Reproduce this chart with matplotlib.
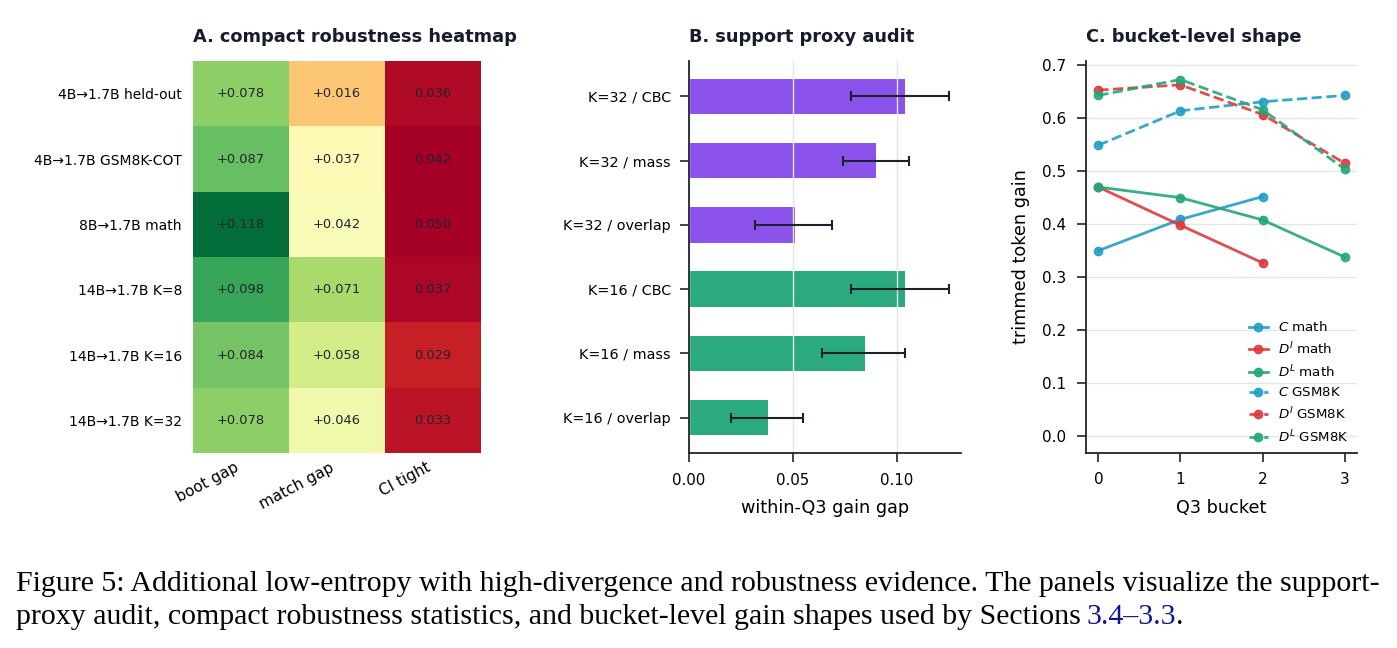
import numpy as np
import matplotlib
matplotlib.use("Agg")
import matplotlib.pyplot as plt

# ---------------- data ----------------
heat_rows = ["4B→1.7B held-out", "4B→1.7B GSM8K-COT", "8B→1.7B math",
             "14B→1.7B K=8", "14B→1.7B K=16", "14B→1.7B K=32"]
heat_cols = ["boot gap", "match gap", "CI tight"]
boot_gap = [0.078, 0.087, 0.118, 0.098, 0.084, 0.078]
match_gap = [0.016, 0.037, 0.042, 0.071, 0.058, 0.046]
ci_tight = [0.036, 0.042, 0.050, 0.037, 0.029, 0.033]

bar_labels = ["K=32 / CBC", "K=32 / mass", "K=32 / overlap",
              "K=16 / CBC", "K=16 / mass", "K=16 / overlap"]
bar_values = [0.104, 0.090, 0.051, 0.104, 0.085, 0.038]
bar_lo = [0.078, 0.074, 0.032, 0.078, 0.064, 0.020]
bar_hi = [0.125, 0.106, 0.069, 0.125, 0.104, 0.055]
bar_group = ["K=32", "K=32", "K=32", "K=16", "K=16", "K=16"]

buckets = [0, 1, 2, 3]
c_math = [0.350, 0.409, 0.452]
di_math = [0.470, 0.398, 0.327]
dl_math = [0.470, 0.450, 0.408, 0.338]
c_gsm = [0.549, 0.614, 0.631, 0.643]
di_gsm = [0.653, 0.663, 0.607, 0.515]
dl_gsm = [0.643, 0.673, 0.616, 0.504]

caption1 = ("Figure 5: Additional low-entropy with high-divergence and robustness "
            "evidence. The panels visualize the support-")
caption2a = ("proxy audit, compact robustness statistics, and bucket-level gain "
             "shapes used by Sections")
caption2b = "3.4–3.3"
caption2c = "."

# ---------------- style ----------------
plt.rcParams["font.family"] = ["DejaVu Sans"]
TITLE_C = "#161b2e"
SPINE_C = "#1f2430"
GRID_C = "#e3e5ea"
PURPLE = "#8b53eb"
GREEN_BAR = "#2baa80"
BLUE = "#20a0c4"
RED = "#e0393b"
GREEN = "#22a67a"
TITLE_FS = 12.8
LABEL_FS = 12.7

fig = plt.figure(figsize=(13.97, 6.48), dpi=100)
W, H = 1397, 648

def ax_at(l, r, t, b):
    return fig.add_axes([l / W, 1 - b / H, (r - l) / W, (b - t) / H])

# ---------------- Panel A ----------------
axA = ax_at(193, 481, 61, 453)
vals = np.array([boot_gap, match_gap, ci_tight]).T
sign = np.array([1, 1, -1])
colour_vals = vals * sign
axA.imshow(colour_vals, cmap="RdYlGn", vmin=-0.04, vmax=0.12, aspect="auto",
           interpolation="nearest")
for i in range(vals.shape[0]):
    for j in range(vals.shape[1]):
        txt = f"{vals[i, j]:+.3f}" if j < 2 else f"{vals[i, j]:.3f}"
        axA.text(j, i, txt, ha="center", va="center", fontsize=9.4, color="#1f2430")
axA.set_xticks(range(len(heat_cols)))
axA.set_xticklabels(heat_cols, rotation=28, ha="right", fontsize=11)
axA.set_yticks(range(len(heat_rows)))
axA.set_yticklabels(heat_rows, fontsize=10)
axA.tick_params(length=0, pad=8)
axA.tick_params(axis="x", pad=5)
for s in axA.spines.values():
    s.set_visible(False)
axA.set_title("A. compact robustness heatmap", loc="left", fontsize=TITLE_FS,
              fontweight="bold", color=TITLE_C, pad=14)

# ---------------- Panel B ----------------
axB = ax_at(689, 961, 61, 453)
ypos = np.arange(len(bar_labels))
cols = [PURPLE if g == "K=32" else GREEN_BAR for g in bar_group]
axB.barh(ypos, bar_values, height=0.55, color=cols)
xerr = [np.array(bar_values) - np.array(bar_lo), np.array(bar_hi) - np.array(bar_values)]
axB.errorbar(bar_values, ypos, xerr=xerr, fmt="none", ecolor="#1c2130",
             elinewidth=1.5, capsize=3.5, capthick=1.5, zorder=3)
axB.set_yticks(ypos)
axB.set_yticklabels(bar_labels, fontsize=10.4)
axB.invert_yaxis()
axB.set_xlim(0, 0.131)
axB.set_xticks([0.0, 0.05, 0.10])
axB.set_xticklabels(["0.00", "0.05", "0.10"], fontsize=10.8)
axB.set_xlabel("within-Q3 gain gap", fontsize=LABEL_FS, labelpad=8)
axB.grid(axis="x", color=GRID_C, linewidth=1)
axB.set_axisbelow("line")
for s in ["top", "right"]:
    axB.spines[s].set_visible(False)
for s in ["left", "bottom"]:
    axB.spines[s].set_color(SPINE_C)
    axB.spines[s].set_linewidth(1.3)
axB.tick_params(axis="both", length=6.5, width=1.2, color=SPINE_C)
axB.tick_params(axis="x", pad=8)
axB.tick_params(axis="y", pad=6.5)
axB.set_title("B. support proxy audit", loc="left", fontsize=TITLE_FS,
              fontweight="bold", color=TITLE_C, pad=14)

# ---------------- Panel C ----------------
axC = ax_at(1086, 1357, 61, 453)
lk = dict(linewidth=2, marker="o", markersize=6, alpha=0.9)
axC.plot(buckets[:len(c_math)], c_math, color=BLUE, label="$C$ math", **lk)
axC.plot(buckets[:len(di_math)], di_math, color=RED, label="$D^I$ math", **lk)
axC.plot(buckets[:len(dl_math)], dl_math, color=GREEN, label="$D^L$ math", **lk)
axC.plot(buckets, c_gsm, color=BLUE, linestyle="--", label="$C$ GSM8K", **lk)
axC.plot(buckets, di_gsm, color=RED, linestyle="--", label="$D^I$ GSM8K", **lk)
axC.plot(buckets, dl_gsm, color=GREEN, linestyle="--", label="$D^L$ GSM8K", **lk)
axC.set_xlim(-0.15, 3.15)
axC.set_ylim(-0.032, 0.708)
axC.set_xticks(buckets)
axC.set_yticks(np.arange(0, 0.71, 0.1))
axC.set_yticklabels([f"{v:.1f}" for v in np.arange(0, 0.71, 0.1)])
axC.tick_params(axis="both", labelsize=11, length=6.5, width=1.2, color=SPINE_C, pad=7.5)
axC.set_xlabel("Q3 bucket", fontsize=LABEL_FS, labelpad=8)
axC.set_ylabel("trimmed token gain", fontsize=LABEL_FS, labelpad=9)
axC.grid(axis="y", color=GRID_C, linewidth=1)
axC.set_axisbelow(True)
for s in ["top", "right"]:
    axC.spines[s].set_visible(False)
for s in ["left", "bottom"]:
    axC.spines[s].set_color(SPINE_C)
    axC.spines[s].set_linewidth(1.3)
axC.legend(loc="lower right", frameon=False, fontsize=9.6, handlelength=1.4,
           handletextpad=0.8, labelspacing=0.47, borderaxespad=0.2)
axC.set_title("C. bucket-level shape", loc="left", fontsize=TITLE_FS,
              fontweight="bold", color=TITLE_C, pad=14)

# ---------------- Caption ----------------
cap_kw = dict(family=["Liberation Serif", "DejaVu Serif"], fontsize=21.5,
              va="baseline", ha="left")
t1 = fig.text(16 / W, 1 - 591 / H, caption1, color="black", **cap_kw)
t2a = fig.text(16 / W, 1 - 624 / H, caption2a, color="black", **cap_kw)
fig.canvas.draw()
r = fig.canvas.get_renderer()
bb = t2a.get_window_extent(renderer=r)
gap = 6
t2b = fig.text((bb.x1 + gap) / W, 1 - 624 / H, caption2b, color="#12128f", **cap_kw)
bb2 = t2b.get_window_extent(renderer=r)
fig.text(bb2.x1 / W, 1 - 624 / H, caption2c, color="black", **cap_kw)

fig.savefig("out.png", dpi=100)
